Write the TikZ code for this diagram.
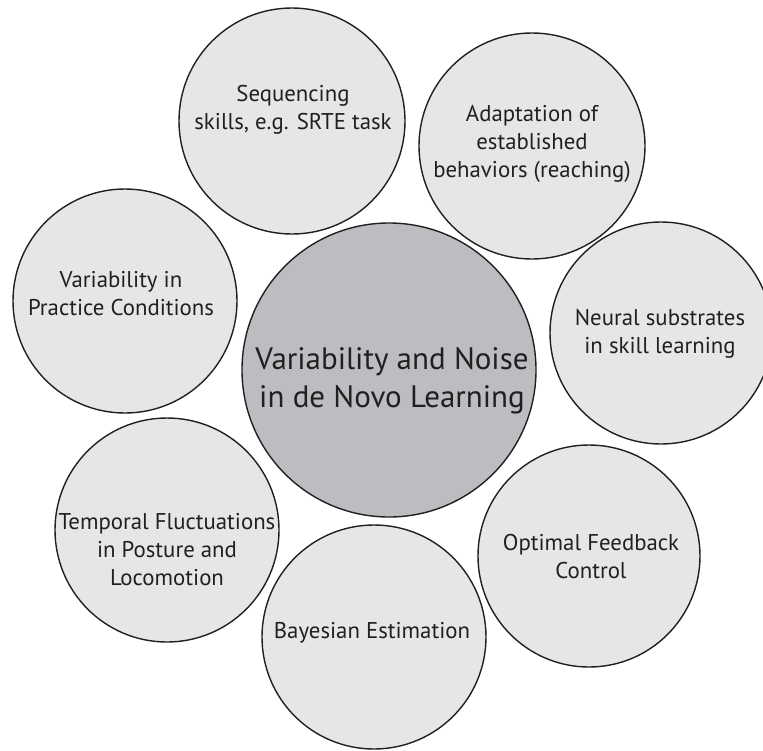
\documentclass[tikz,border=0pt]{standalone}
\usepackage{fontspec}
\setmainfont{PT Sans}
\definecolor{ink}{HTML}{231F20}
\definecolor{lightfill}{HTML}{E6E6E7}
\definecolor{darkfill}{HTML}{BCBDC0}
\begin{document}
\begin{tikzpicture}[x=1pt,y=-1pt,
  bubble/.style={circle, draw=ink, line width=1.4pt, fill=lightfill, inner sep=0pt},
  hub/.style={bubble, fill=darkfill},
  txt/.style={align=center, text=ink, font=\fontsize{22.8}{28}\selectfont, inner sep=0pt},
  bigtxt/.style={align=center, text=ink, font=\fontsize{31}{38}\selectfont, inner sep=0pt}]
\useasboundingbox (0,0) rectangle (763,750);
\clip (0,0) rectangle (763,750);
\node[hub, minimum size=294pt] (c) at (389,370) {};
\node[bubble, minimum size=226pt] (s) at (292,121) {};
\node[bubble, minimum size=226pt] (a) at (532,146) {};
\node[bubble, minimum size=224pt] (v) at (125,301) {};
\node[bubble, minimum size=222pt] (n) at (661,333) {};
\node[bubble, minimum size=224pt] (t) at (167,530) {};
\node[bubble, minimum size=222pt] (o) at (589,556) {};
\node[bubble, minimum size=224pt] (b) at (374,637) {};
\node[bigtxt] (ct) at (392,381) {Variability and Noise\\in de Novo Learning};
\node[txt] (st) at (293,110) {Sequencing\\skills, e.g. SRTE task};
\node[txt] (at) at (532,144) {Adaptation of\\established\\behaviors (reaching)};
\node[txt] (vt) at (121,294) {Variability in\\Practice Conditions};
\node[txt] (nt) at (660,334) {Neural substrates\\in skill learning};
\node[txt] (tt) at (167,550) {Temporal Fluctuations\\in Posture and\\Locomotion};
\node[txt] (ot) at (591,557) {Optimal Feedback\\Control};
\node[txt] (bt) at (372,633) {Bayesian Estimation};
\end{tikzpicture}
\end{document}
